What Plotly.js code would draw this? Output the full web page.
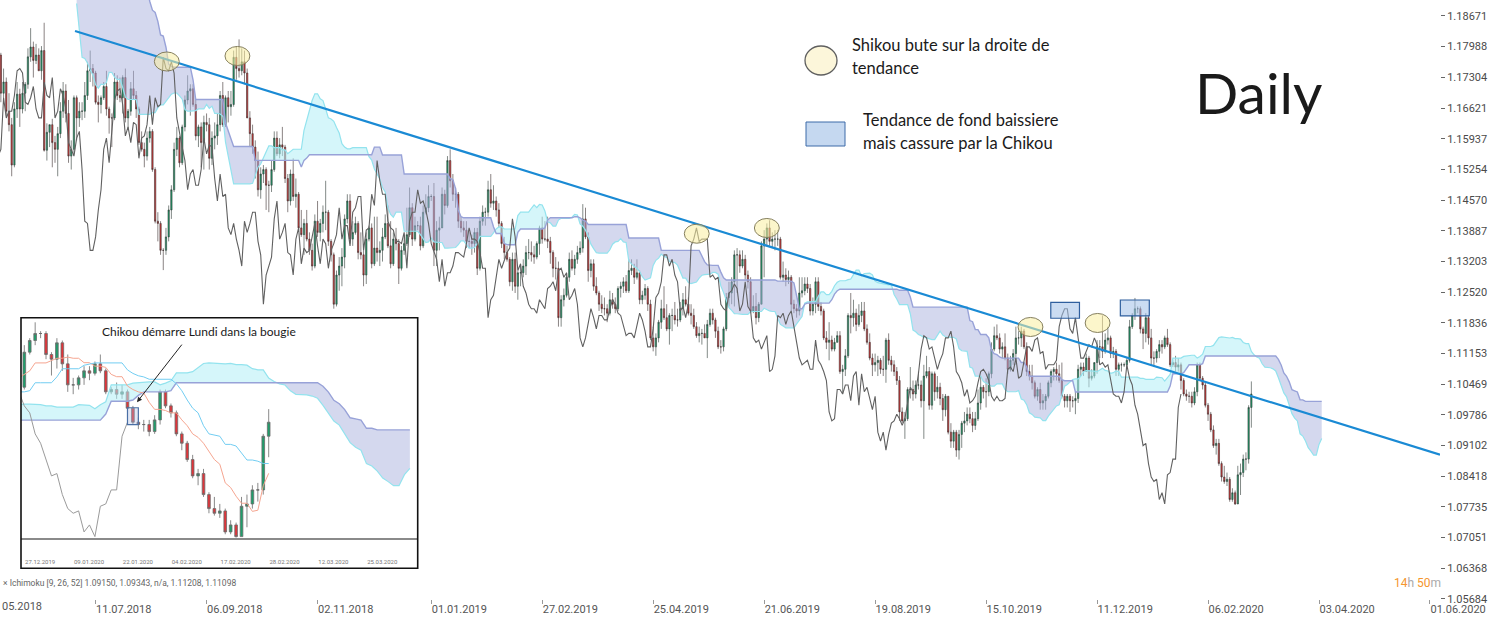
<!DOCTYPE html>
<html><head><meta charset="utf-8">
<script src="https://cdn.plot.ly/plotly-3.0.1.min.js"></script>
<style>html,body{margin:0;padding:0;background:#fff}#chart{width:1488px;height:627px}</style>
</head><body><div id="chart"></div>
<script>
// EUR/USD daily bars, one per weekday, from 15.03.2018 to 28.02.2020.
// Bar index 0 = 11.07.2018 ; first bar (15.03.2018) = -84.
const FIRST_BAR = -84;
const OPEN = [
1.2370,1.2305,1.2285,1.2335,1.2240,1.2350,1.2300,1.2355,1.2450,1.2405,1.2310,1.2320,
1.2325,1.2300,1.2270,1.2275,1.2240,1.2280,1.2320,1.2355,1.2365,1.2330,1.2330,1.2380,1.2375,1.2375,1.2345,1.2285,1.2210,1.2235,1.2165,1.2100,1.2130,
1.2080,1.1990,1.1950,1.1990,1.1960,1.1925,1.1865,1.1850,1.1915,1.1940,1.1925,1.1835,1.1810,1.1795,1.1770,1.1790,1.1780,1.1695,1.1720,1.1655,1.1625,1.1535,1.1660,
1.1693,1.1660,1.1695,1.1715,1.1776,1.1798,1.1768,1.1780,1.1745,1.1790,1.1568,1.1608,1.1625,1.1585,1.1570,1.1605,1.1655,1.1700,1.1650,1.1555,1.1570,
1.1685,1.1640,1.1655,1.1655,1.1690,1.1745,1.1750,1.1740,1.1675,1.1670,1.1685,1.1710,1.1660,1.1640,1.1640,1.1720,1.1690,1.1685,1.1730,1.1640,1.1655,1.1705,
1.1690,1.1660,1.1585,1.1570,1.1555,1.1595,1.1610,1.1525,1.1410,1.1405,1.1345,1.1345,1.1375,1.1435,1.1480,1.1570,1.1595,1.1540,1.1620,1.1680,1.1700,1.1705,1.1670,
1.1600,1.1620,1.1585,1.1630,1.1625,1.1550,1.1595,1.1600,1.1625,1.1690,1.1625,1.1685,1.1665,1.1670,1.1775,1.1750,1.1745,1.1765,1.1740,1.1640,
1.1605,1.1575,1.1545,1.1480,1.1515,1.1525,1.1490,1.1490,1.1525,1.1595,1.1560,1.1580,1.1575,1.1505,1.1455,1.1515,1.1465,1.1470,1.1395,1.1380,1.1405,1.1370,1.1345,
1.1310,1.1410,1.1385,1.1405,1.1430,1.1430,1.1365,1.1335,1.1225,1.1290,1.1310,1.1330,1.1415,1.1455,1.1370,1.1385,1.1405,1.1340,1.1335,1.1290,1.1370,1.1395,
1.1315,1.1350,1.1340,1.1345,1.1375,1.1405,1.1355,1.1315,1.1370,1.1360,1.1305,1.1345,1.1360,1.1380,1.1440,1.1370,1.1400,1.1400,1.1355,1.1430,1.1440,
1.1465,1.1465,1.1345,1.1390,1.1395,1.1470,1.1445,1.1545,1.1500,1.1470,1.1470,1.1410,1.1395,1.1390,1.1365,1.1365,1.1360,1.1385,1.1305,1.1410,1.1430,1.1430,1.1480,
1.1450,1.1455,1.1435,1.1405,1.1360,1.1340,1.1325,1.1275,1.1325,1.1265,1.1295,1.1295,1.1310,1.1340,1.1340,1.1335,1.1330,1.1360,1.1395,1.1370,
1.1370,1.1365,1.1340,1.1305,1.1305,1.1195,1.1235,1.1245,1.1285,1.1325,1.1305,1.1325,1.1340,1.1350,1.1415,1.1375,1.1300,1.1315,1.1265,1.1250,1.1225,
1.1215,1.1215,1.1205,1.1235,1.1225,1.1215,1.1260,1.1265,1.1275,1.1255,1.1300,1.1305,1.1285,1.1295,1.1235,1.1245,1.1260,1.1225,1.1150,1.1130,1.1150,1.1185,
1.1215,1.1195,1.1170,1.1200,1.1200,1.1190,1.1190,1.1215,1.1235,1.1225,1.1205,1.1200,1.1175,1.1155,1.1160,1.1160,1.1150,1.1180,1.1205,1.1190,1.1165,1.1130,1.1130,
1.1170,1.1240,1.1250,1.1275,1.1335,1.1335,1.1310,1.1325,1.1290,1.1275,1.1210,1.1220,1.1195,1.1225,1.1355,1.1370,1.1395,1.1365,1.1370,1.1370,
1.1370,1.1285,1.1290,1.1280,1.1285,1.1225,1.1215,1.1210,1.1250,1.1255,1.1270,1.1260,1.1210,1.1225,1.1275,1.1220,1.1210,1.1150,1.1140,1.1145,1.1125,1.1140,1.1155,
1.1075,1.1080,1.1110,1.1200,1.1195,1.1205,1.1180,1.1200,1.1210,1.1170,1.1140,1.1105,1.1090,1.1095,1.1100,1.1080,1.1080,1.1145,1.1100,1.1090,1.1075,1.1055,
1.0985,1.0965,1.0970,1.1035,1.1035,1.1025,1.1045,1.1045,1.1010,1.1065,1.1075,1.1000,1.1070,1.1030,1.1040,1.1015,1.0990,1.1020,1.0940,1.0920,1.0940,
1.0900,1.0935,1.0960,1.0965,1.0980,1.0970,1.0955,1.0970,1.1005,1.1040,1.1030,1.1030,1.1070,1.1125,1.1155,1.1150,1.1125,1.1130,1.1105,1.1080,1.1100,1.1115,1.1150,
1.1150,1.1165,1.1130,1.1075,1.1065,1.1050,1.1020,1.1035,1.1005,1.1010,1.1020,1.1050,1.1075,1.1080,1.1070,1.1055,1.1020,1.1010,1.1020,1.1010,1.1010,
1.1015,1.1080,1.1085,1.1075,1.1105,1.1060,1.1065,1.1095,1.1130,1.1130,1.1120,1.1145,1.1150,1.1115,1.1120,1.1080,1.1090,1.1090,1.1090,1.1100,1.1175,1.1200,
1.1215,1.1215,1.1170,1.1160,1.1195,1.1150,1.1105,1.1105,1.1120,1.1135,1.1130,1.1150,1.1135,1.1090,1.1095,1.1085,1.1090,1.1055,1.1025,1.1020,1.1020,1.1005,1.1030,
1.1090,1.1060,1.1045,1.1000,1.0980,1.0945,1.0910,1.0915,1.0870,1.0840,1.0830,1.0835,1.0790,1.0805,1.0780,1.0845,1.0850,1.0880,1.0880,1.0995];
const HIGH = [
1.2390,1.2335,1.2355,1.2345,1.2365,1.2390,1.2375,1.2475,1.2475,1.2410,1.2340,1.2340,
1.2345,1.2325,1.2320,1.2295,1.2295,1.2325,1.2365,1.2395,1.2370,1.2345,1.2395,1.2415,1.2410,1.2395,1.2350,1.2290,1.2250,1.2240,1.2200,1.2140,1.2135,
1.2085,1.2010,1.2000,1.1995,1.1975,1.1940,1.1890,1.1935,1.1955,1.1996,1.1940,1.1850,1.1830,1.1810,1.1790,1.1830,1.1785,1.1750,1.1730,1.1695,1.1640,1.1675,1.1720,
1.1705,1.1720,1.1720,1.1795,1.1840,1.1810,1.1805,1.1795,1.1800,1.1852,1.1628,1.1625,1.1638,1.1600,1.1620,1.1675,1.1720,1.1715,1.1680,1.1590,1.1690,
1.1690,1.1675,1.1675,1.1720,1.1765,1.1790,1.1760,1.1745,1.1690,1.1690,1.1720,1.1745,1.1665,1.1650,1.1740,1.1735,1.1730,1.1735,1.1750,1.1660,1.1720,1.1745,
1.1700,1.1665,1.1610,1.1585,1.1610,1.1620,1.1615,1.1530,1.1430,1.1410,1.1350,1.1395,1.1445,1.1490,1.1585,1.1620,1.1600,1.1625,1.1690,1.1735,1.1715,1.1715,1.1680,
1.1625,1.1630,1.1645,1.1650,1.1640,1.1610,1.1630,1.1650,1.1700,1.1720,1.1690,1.1700,1.1700,1.1790,1.1800,1.1815,1.1795,1.1790,1.1750,1.1655,
1.1625,1.1590,1.1565,1.1530,1.1535,1.1530,1.1500,1.1545,1.1610,1.1610,1.1595,1.1620,1.1580,1.1515,1.1525,1.1550,1.1505,1.1475,1.1435,1.1415,1.1435,1.1385,1.1360,
1.1425,1.1455,1.1415,1.1445,1.1500,1.1435,1.1370,1.1340,1.1300,1.1330,1.1350,1.1425,1.1470,1.1470,1.1410,1.1420,1.1410,1.1385,1.1345,1.1385,1.1400,1.1405,
1.1420,1.1420,1.1365,1.1395,1.1425,1.1445,1.1410,1.1385,1.1395,1.1370,1.1355,1.1380,1.1440,1.1485,1.1450,1.1420,1.1410,1.1420,1.1445,1.1470,1.1490,
1.1470,1.1495,1.1410,1.1420,1.1485,1.1480,1.1555,1.1570,1.1515,1.1485,1.1475,1.1420,1.1410,1.1410,1.1385,1.1380,1.1395,1.1395,1.1420,1.1445,1.1440,1.1500,1.1515,
1.1490,1.1465,1.1450,1.1410,1.1375,1.1355,1.1330,1.1340,1.1340,1.1300,1.1310,1.1325,1.1355,1.1370,1.1365,1.1355,1.1365,1.1400,1.1420,1.1410,
1.1420,1.1375,1.1345,1.1330,1.1320,1.1245,1.1260,1.1295,1.1340,1.1345,1.1335,1.1355,1.1365,1.1448,1.1440,1.1385,1.1325,1.1325,1.1285,1.1255,1.1245,
1.1240,1.1225,1.1255,1.1250,1.1240,1.1265,1.1275,1.1285,1.1290,1.1325,1.1325,1.1315,1.1325,1.1300,1.1255,1.1270,1.1265,1.1235,1.1175,1.1160,1.1190,1.1235,
1.1265,1.1225,1.1205,1.1215,1.1230,1.1215,1.1230,1.1250,1.1265,1.1240,1.1225,1.1215,1.1185,1.1175,1.1170,1.1180,1.1190,1.1215,1.1215,1.1195,1.1175,1.1145,1.1175,
1.1250,1.1275,1.1285,1.1345,1.1350,1.1345,1.1345,1.1335,1.1300,1.1285,1.1245,1.1250,1.1230,1.1365,1.1390,1.1405,1.1412,1.1385,1.1390,1.1390,
1.1375,1.1320,1.1305,1.1300,1.1290,1.1235,1.1225,1.1285,1.1285,1.1285,1.1285,1.1270,1.1240,1.1285,1.1285,1.1230,1.1215,1.1165,1.1185,1.1155,1.1150,1.1165,1.1165,
1.1090,1.1125,1.1205,1.1250,1.1235,1.1215,1.1225,1.1230,1.1230,1.1180,1.1160,1.1115,1.1115,1.1110,1.1105,1.1110,1.1150,1.1160,1.1110,1.1100,1.1085,1.1065,
1.0995,1.0985,1.1040,1.1085,1.1055,1.1055,1.1075,1.1055,1.1090,1.1110,1.1085,1.1075,1.1075,1.1065,1.1050,1.1025,1.1025,1.1020,1.0960,1.0945,1.0945,
1.0945,1.0965,1.0985,1.0995,1.0995,1.0985,1.0985,1.1035,1.1065,1.1045,1.1060,1.1075,1.1140,1.1175,1.1180,1.1160,1.1140,1.1160,1.1115,1.1110,1.1125,1.1175,1.1165,
1.1175,1.1170,1.1140,1.1090,1.1090,1.1055,1.1040,1.1050,1.1025,1.1025,1.1055,1.1080,1.1085,1.1095,1.1090,1.1095,1.1025,1.1025,1.1025,1.1020,1.1030,
1.1090,1.1095,1.1095,1.1115,1.1110,1.1080,1.1095,1.1145,1.1145,1.1200,1.1160,1.1175,1.1155,1.1130,1.1125,1.1095,1.1095,1.1095,1.1105,1.1190,1.1205,1.1239,
1.1220,1.1220,1.1175,1.1205,1.1200,1.1170,1.1120,1.1125,1.1145,1.1145,1.1155,1.1170,1.1140,1.1100,1.1110,1.1105,1.1095,1.1060,1.1035,1.1030,1.1030,1.1040,1.1095,
1.1095,1.1065,1.1050,1.1005,1.0985,1.0955,1.0925,1.0925,1.0875,1.0865,1.0850,1.0840,1.0815,1.0810,1.0865,1.0870,1.0890,1.0895,1.1000,1.1053];
const LOW = [
1.2290,1.2260,1.2255,1.2240,1.2230,1.2285,1.2285,1.2345,1.2395,1.2300,1.2290,1.2310,
1.2280,1.2255,1.2255,1.2215,1.2215,1.2260,1.2310,1.2340,1.2310,1.2305,1.2320,1.2350,1.2355,1.2335,1.2275,1.2185,1.2185,1.2160,1.2095,1.2055,1.2060,
1.1985,1.1940,1.1940,1.1910,1.1905,1.1840,1.1825,1.1840,1.1905,1.1915,1.1820,1.1765,1.1790,1.1750,1.1720,1.1770,1.1675,1.1680,1.1645,1.1610,1.1510,1.1530,1.1640,
1.1620,1.1650,1.1655,1.1705,1.1765,1.1730,1.1760,1.1745,1.1725,1.1565,1.1545,1.1575,1.1530,1.1540,1.1510,1.1595,1.1640,1.1630,1.1540,1.1525,1.1560,
1.1590,1.1620,1.1635,1.1640,1.1680,1.1720,1.1710,1.1670,1.1630,1.1650,1.1680,1.1645,1.1605,1.1575,1.1635,1.1680,1.1675,1.1650,1.1630,1.1615,1.1645,1.1680,
1.1640,1.1580,1.1565,1.1530,1.1545,1.1585,1.1520,1.1405,1.1365,1.1335,1.1301,1.1335,1.1365,1.1415,1.1475,1.1555,1.1530,1.1535,1.1610,1.1670,1.1645,1.1665,1.1590,
1.1575,1.1530,1.1525,1.1610,1.1525,1.1535,1.1570,1.1580,1.1610,1.1620,1.1620,1.1630,1.1645,1.1665,1.1725,1.1730,1.1735,1.1715,1.1640,1.1575,
1.1560,1.1505,1.1465,1.1460,1.1495,1.1435,1.1430,1.1475,1.1520,1.1555,1.1550,1.1555,1.1495,1.1430,1.1445,1.1455,1.1440,1.1390,1.1375,1.1335,1.1365,1.1335,1.1300,
1.1305,1.1375,1.1365,1.1385,1.1390,1.1355,1.1320,1.1215,1.1220,1.1255,1.1265,1.1305,1.1405,1.1360,1.1355,1.1380,1.1325,1.1325,1.1265,1.1270,1.1365,1.1305,
1.1310,1.1320,1.1310,1.1320,1.1370,1.1350,1.1305,1.1310,1.1345,1.1270,1.1300,1.1335,1.1355,1.1375,1.1355,1.1365,1.1390,1.1345,1.1350,1.1425,1.1430,
1.1455,1.1310,1.1310,1.1345,1.1395,1.1425,1.1440,1.1485,1.1455,1.1440,1.1395,1.1385,1.1375,1.1350,1.1350,1.1335,1.1340,1.1290,1.1300,1.1400,1.1400,1.1420,1.1440,
1.1435,1.1420,1.1395,1.1350,1.1325,1.1320,1.1265,1.1255,1.1250,1.1235,1.1265,1.1285,1.1290,1.1325,1.1320,1.1315,1.1325,1.1335,1.1360,1.1365,
1.1350,1.1315,1.1285,1.1280,1.1175,1.1175,1.1220,1.1240,1.1275,1.1300,1.1290,1.1315,1.1335,1.1340,1.1370,1.1275,1.1285,1.1255,1.1245,1.1210,1.1205,
1.1200,1.1185,1.1200,1.1215,1.1205,1.1210,1.1240,1.1250,1.1250,1.1250,1.1290,1.1270,1.1280,1.1225,1.1225,1.1235,1.1210,1.1145,1.1120,1.1110,1.1140,1.1170,
1.1190,1.1165,1.1135,1.1165,1.1180,1.1175,1.1185,1.1200,1.1220,1.1200,1.1180,1.1170,1.1150,1.1140,1.1135,1.1150,1.1105,1.1175,1.1180,1.1150,1.1125,1.1115,1.1120,
1.1165,1.1220,1.1225,1.1220,1.1250,1.1295,1.1305,1.1280,1.1260,1.1205,1.1205,1.1180,1.1185,1.1225,1.1285,1.1355,1.1355,1.1350,1.1345,1.1355,
1.1280,1.1275,1.1265,1.1270,1.1210,1.1205,1.1195,1.1200,1.1240,1.1245,1.1250,1.1200,1.1200,1.1205,1.1210,1.1200,1.1145,1.1125,1.1100,1.1120,1.1120,1.1140,1.1070,
1.1025,1.1065,1.1105,1.1160,1.1175,1.1165,1.1175,1.1185,1.1165,1.1135,1.1100,1.1065,1.1075,1.1065,1.1070,1.1065,1.1050,1.1090,1.1075,1.1065,1.1045,1.0965,
1.0960,1.0925,1.0965,1.1015,1.1010,1.1015,1.1035,1.0995,1.0925,1.1060,1.0990,1.0990,1.1010,1.1015,1.1000,1.0965,1.0975,1.0935,1.0905,1.0905,1.0885,
1.0879,1.0905,1.0940,1.0955,1.0960,1.0940,1.0945,1.0965,1.0990,1.1015,1.0995,1.1020,1.1060,1.1120,1.1145,1.1115,1.1105,1.1100,1.1070,1.1075,1.1090,1.1090,1.1135,
1.1130,1.1125,1.1065,1.1055,1.1035,1.1015,1.1010,1.0990,1.0990,1.0990,1.1015,1.1040,1.1055,1.1055,1.1050,1.1015,1.0995,1.0995,1.0985,1.0995,1.0980,
1.1005,1.1065,1.1065,1.1075,1.1040,1.1055,1.1060,1.1070,1.1105,1.1105,1.1115,1.1135,1.1105,1.1105,1.1065,1.1065,1.1075,1.1085,1.1085,1.1095,1.1170,1.1190,
1.1205,1.1160,1.1125,1.1140,1.1135,1.1090,1.1085,1.1095,1.1105,1.1115,1.1125,1.1130,1.1085,1.1085,1.1075,1.1075,1.1035,1.1020,1.1010,1.1005,1.0995,1.1000,1.1020,
1.1055,1.1035,1.0995,1.0965,1.0940,1.0905,1.0890,1.0865,1.0830,1.0825,1.0820,1.0785,1.0785,1.0778,1.0780,1.0800,1.0840,1.0855,1.0870,1.0950];
const CLOSE = [
1.2305,1.2285,1.2335,1.2240,1.2350,1.2300,1.2355,1.2450,1.2405,1.2310,1.2320,1.2325,
1.2300,1.2270,1.2275,1.2240,1.2280,1.2320,1.2355,1.2365,1.2330,1.2330,1.2380,1.2375,1.2375,1.2345,1.2285,1.2210,1.2235,1.2165,1.2100,1.2130,1.2080,
1.1990,1.1950,1.1990,1.1960,1.1925,1.1865,1.1850,1.1915,1.1940,1.1925,1.1835,1.1810,1.1795,1.1770,1.1790,1.1780,1.1695,1.1720,1.1655,1.1625,1.1535,1.1660,1.1693,
1.1660,1.1695,1.1715,1.1776,1.1798,1.1768,1.1780,1.1745,1.1790,1.1568,1.1608,1.1625,1.1585,1.1570,1.1605,1.1655,1.1700,1.1650,1.1555,1.1570,1.1685,
1.1640,1.1655,1.1655,1.1690,1.1745,1.1750,1.1740,1.1675,1.1670,1.1685,1.1710,1.1660,1.1640,1.1640,1.1720,1.1690,1.1685,1.1730,1.1640,1.1655,1.1705,1.1690,
1.1660,1.1585,1.1570,1.1555,1.1595,1.1610,1.1525,1.1410,1.1405,1.1345,1.1345,1.1375,1.1435,1.1480,1.1570,1.1595,1.1540,1.1620,1.1680,1.1700,1.1705,1.1670,1.1600,
1.1620,1.1585,1.1630,1.1625,1.1550,1.1595,1.1600,1.1625,1.1690,1.1625,1.1685,1.1665,1.1670,1.1775,1.1750,1.1745,1.1765,1.1740,1.1640,1.1605,
1.1575,1.1545,1.1480,1.1515,1.1525,1.1490,1.1490,1.1525,1.1595,1.1560,1.1580,1.1575,1.1505,1.1455,1.1515,1.1465,1.1470,1.1395,1.1380,1.1405,1.1370,1.1345,1.1310,
1.1410,1.1385,1.1405,1.1430,1.1430,1.1365,1.1335,1.1225,1.1290,1.1310,1.1330,1.1415,1.1455,1.1370,1.1385,1.1405,1.1340,1.1335,1.1290,1.1370,1.1395,1.1315,
1.1350,1.1340,1.1345,1.1375,1.1405,1.1355,1.1315,1.1370,1.1360,1.1305,1.1345,1.1360,1.1380,1.1440,1.1370,1.1400,1.1400,1.1355,1.1430,1.1440,1.1465,
1.1465,1.1345,1.1390,1.1395,1.1470,1.1445,1.1545,1.1500,1.1470,1.1470,1.1410,1.1395,1.1390,1.1365,1.1365,1.1360,1.1385,1.1305,1.1410,1.1430,1.1430,1.1480,1.1450,
1.1455,1.1435,1.1405,1.1360,1.1340,1.1325,1.1275,1.1325,1.1265,1.1295,1.1295,1.1310,1.1340,1.1340,1.1335,1.1330,1.1360,1.1395,1.1370,1.1370,
1.1365,1.1340,1.1305,1.1305,1.1195,1.1235,1.1245,1.1285,1.1325,1.1305,1.1325,1.1340,1.1350,1.1415,1.1375,1.1300,1.1315,1.1265,1.1250,1.1225,1.1215,
1.1215,1.1205,1.1235,1.1225,1.1215,1.1260,1.1265,1.1275,1.1255,1.1300,1.1305,1.1285,1.1295,1.1235,1.1245,1.1260,1.1225,1.1150,1.1130,1.1150,1.1185,1.1215,
1.1195,1.1170,1.1200,1.1200,1.1190,1.1190,1.1215,1.1235,1.1225,1.1205,1.1200,1.1175,1.1155,1.1160,1.1160,1.1150,1.1180,1.1205,1.1190,1.1165,1.1130,1.1130,1.1170,
1.1240,1.1250,1.1275,1.1335,1.1335,1.1310,1.1325,1.1290,1.1275,1.1210,1.1220,1.1195,1.1225,1.1355,1.1370,1.1395,1.1365,1.1370,1.1370,1.1370,
1.1285,1.1290,1.1280,1.1285,1.1225,1.1215,1.1210,1.1250,1.1255,1.1270,1.1260,1.1210,1.1225,1.1275,1.1220,1.1210,1.1150,1.1140,1.1145,1.1125,1.1140,1.1155,1.1075,
1.1080,1.1110,1.1200,1.1195,1.1205,1.1180,1.1200,1.1210,1.1170,1.1140,1.1105,1.1090,1.1095,1.1100,1.1080,1.1080,1.1145,1.1100,1.1090,1.1075,1.1055,1.0985,
1.0965,1.0970,1.1035,1.1035,1.1025,1.1045,1.1045,1.1010,1.1065,1.1075,1.1000,1.1070,1.1030,1.1040,1.1015,1.0990,1.1020,1.0940,1.0920,1.0940,1.0900,
1.0935,1.0960,1.0965,1.0980,1.0970,1.0955,1.0970,1.1005,1.1040,1.1030,1.1030,1.1070,1.1125,1.1155,1.1150,1.1125,1.1130,1.1105,1.1080,1.1100,1.1115,1.1150,1.1150,
1.1165,1.1130,1.1075,1.1065,1.1050,1.1020,1.1035,1.1005,1.1010,1.1020,1.1050,1.1075,1.1080,1.1070,1.1055,1.1020,1.1010,1.1020,1.1010,1.1010,1.1015,
1.1080,1.1085,1.1075,1.1105,1.1060,1.1065,1.1095,1.1130,1.1130,1.1120,1.1145,1.1150,1.1115,1.1120,1.1080,1.1090,1.1090,1.1090,1.1100,1.1175,1.1200,1.1215,
1.1215,1.1170,1.1160,1.1195,1.1150,1.1105,1.1105,1.1120,1.1135,1.1130,1.1150,1.1135,1.1090,1.1095,1.1085,1.1090,1.1055,1.1025,1.1020,1.1020,1.1005,1.1030,1.1090,
1.1060,1.1045,1.1000,1.0980,1.0945,1.0910,1.0915,1.0870,1.0840,1.0830,1.0835,1.0790,1.0805,1.0780,1.0845,1.0850,1.0880,1.0880,1.0995,1.1025];

const DATE_TICKS  = [0, 41, 82, 124, 165, 206, 247, 288, 329, 370, 411, 452, 493];
const DATE_LABELS = ['11.07.2018','06.09.2018','02.11.2018','01.01.2019','27.02.2019','25.04.2019','21.06.2019','19.08.2019','15.10.2019','11.12.2019','06.02.2020','03.04.2020','01.06.2020'];
const PRICE_TICKS = [1.18671,1.17988,1.17304,1.16621,1.15937,1.15254,1.14570,1.13887,1.13203,1.12520,1.11836,1.11153,1.10469,1.09786,1.09102,1.08418,1.07735,1.07051,1.06368,1.05684];
const INSET_TICKS  = [382, 391, 400, 409, 418, 427, 436, 445];
const INSET_LABELS = ['27.12.2019','09.01.2020','22.01.2020','04.02.2020','17.02.2020','28.02.2020','12.03.2020','25.03.2020'];
// hand-drawn trend line (bar index, price)
const TREND_X = [-7.6, 496.7];
const TREND_Y = [1.18336, 1.08898];
// yellow ellipses (bar index, price) where Chikou touches the trend line
const ELLIPSE_X = [26.3, 52.4, 222.1, 248.0, 345.4, 370.2];
const ELLIPSE_Y = [1.17657, 1.17780, 1.13821, 1.13948, 1.11743, 1.11832];
// blue boxes: [x0, x1, y0, y1]
const BOXES = [[352.9, 363.5, 1.11937, 1.12293], [378.6, 389.3, 1.11988, 1.12344]];
const MARKED_BAR = 402; // 24.01.2020 candle highlighted in the inset

// ---------- Ichimoku (9, 26, 52) ----------
const N = CLOSE.length;
const BARS = CLOSE.map((_, k) => FIRST_BAR + k);
function midRange(k, n) {
  if (k - n + 1 < 0) return null;
  let hi = -Infinity, lo = Infinity;
  for (let j = k - n + 1; j <= k; j++) { if (HIGH[j] > hi) hi = HIGH[j]; if (LOW[j] < lo) lo = LOW[j]; }
  return (hi + lo) / 2;
}
const TENKAN = BARS.map((_, k) => midRange(k, 9));
const KIJUN = BARS.map((_, k) => midRange(k, 26));
const spanX = [], spanA = [], spanB = [];
for (let k = 0; k < N; k++) {
  const b = midRange(k, 52);
  if (b === null) continue;
  spanX.push(BARS[k] + 26); spanA.push((TENKAN[k] + KIJUN[k]) / 2); spanB.push(b);
}
const CHIKOU_X = BARS.map(b => b - 26);

function cloudPolys() {
  const polys = []; let cur = null;
  for (let k = 0; k < spanX.length; k++) {
    const up = spanA[k] >= spanB[k];
    if (!cur || cur.up !== up) {
      if (cur) {
        const d0 = spanA[k-1] - spanB[k-1], d1 = spanA[k] - spanB[k];
        const t = d0 / (d0 - d1);
        const xc = spanX[k-1] + t * (spanX[k] - spanX[k-1]);
        const yc = spanA[k-1] + t * (spanA[k] - spanA[k-1]);
        cur.x.push(xc); cur.a.push(yc); cur.b.push(yc);
        cur = {up, x: [xc], a: [yc], b: [yc]};
      } else cur = {up, x: [], a: [], b: []};
      polys.push(cur);
    }
    cur.x.push(spanX[k]); cur.a.push(spanA[k]); cur.b.push(spanB[k]);
  }
  return polys;
}
const POLYS = cloudPolys();

const BULL_FILL = 'rgba(178,238,245,0.55)', BEAR_FILL = 'rgba(170,178,222,0.5)';
const A_COLOR = '#93e3ee', B_COLOR = '#98a2d8';

function cloudTraces(xa, ya) {
  const out = [];
  POLYS.forEach(p => {
    out.push({type:'scatter', mode:'lines', xaxis:xa, yaxis:ya, hoverinfo:'skip',
      x: p.x.concat(p.x.slice().reverse()), y: p.a.concat(p.b.slice().reverse()),
      fill:'toself', fillcolor: p.up ? BULL_FILL : BEAR_FILL, line:{width:0}});
  });
  out.push({type:'scatter', mode:'lines', xaxis:xa, yaxis:ya, hoverinfo:'skip', x:spanX, y:spanA, line:{color:A_COLOR, width:1.2}});
  out.push({type:'scatter', mode:'lines', xaxis:xa, yaxis:ya, hoverinfo:'skip', x:spanX, y:spanB, line:{color:B_COLOR, width:1.4}});
  return out;
}

const traces = [];
// main chart
traces.push(...cloudTraces('x', 'y'));
traces.push({type:'scatter', mode:'lines', x:CHIKOU_X, y:CLOSE, line:{color:'#606060', width:1.1}, hoverinfo:'skip'});
traces.push({type:'candlestick', x:BARS, open:OPEN, high:HIGH, low:LOW, close:CLOSE, hoverinfo:'skip',
  increasing:{line:{color:'#2f3b35', width:0.6}, fillcolor:'#1f9e6b'},
  decreasing:{line:{color:'#3b2f2f', width:0.6}, fillcolor:'#d43a3a'}, whiskerwidth:0});
traces.push({type:'scatter', mode:'lines', x:TREND_X, y:TREND_Y, line:{color:'#1a8ad4', width:2.2}, hoverinfo:'skip'});
// inset
traces.push(...cloudTraces('x2', 'y2'));
traces.push({type:'scatter', mode:'lines', xaxis:'x2', yaxis:'y2', x:CHIKOU_X, y:CLOSE, line:{color:'#9a9a9a', width:1}, hoverinfo:'skip'});
traces.push({type:'scatter', mode:'lines', xaxis:'x2', yaxis:'y2', x:BARS, y:TENKAN, line:{color:'#f5a590', width:1}, hoverinfo:'skip'});
traces.push({type:'scatter', mode:'lines', xaxis:'x2', yaxis:'y2', x:BARS, y:KIJUN, line:{color:'#72cdf2', width:1}, hoverinfo:'skip'});
traces.push({type:'candlestick', xaxis:'x2', yaxis:'y2', x:BARS, open:OPEN, high:HIGH, low:LOW, close:CLOSE, hoverinfo:'skip',
  increasing:{line:{color:'#6b6b6b', width:0.8}, fillcolor:'#1f9e6b'},
  decreasing:{line:{color:'#6b6b6b', width:0.8}, fillcolor:'#e0353a'}, whiskerwidth:0});

// ---------- layout helpers (pixel -> paper within 1440x599 plot area) ----------
const PX = x => x / 1440, PY = y => 1 - y / 599;
const shapes = [];
ELLIPSE_X.forEach((cx, i) => {
  shapes.push({type:'circle', xref:'x', yref:'y', x0:cx-4.6, x1:cx+4.6, y0:ELLIPSE_Y[i]-0.00212, y1:ELLIPSE_Y[i]+0.00212,
    fillcolor:'rgba(250,238,160,0.55)', line:{color:'#857f5e', width:1}, layer:'above'});
});
BOXES.forEach(b => {
  shapes.push({type:'rect', xref:'x', yref:'y', x0:b[0], x1:b[1], y0:b[2], y1:b[3],
    fillcolor:'rgba(160,192,232,0.55)', line:{color:'#2f5f9e', width:1.2}, layer:'above'});
});
const mk = MARKED_BAR - FIRST_BAR;
shapes.push({type:'rect', xref:'x2', yref:'y2', x0:MARKED_BAR-1, x1:MARKED_BAR+1, y0:LOW[mk], y1:OPEN[mk]+0.0001,
  fillcolor:'rgba(170,185,225,0.35)', line:{color:'#4a6fa5', width:1.2}, layer:'above'});
// legend symbols
shapes.push({type:'circle', xref:'paper', yref:'paper', x0:PX(805), x1:PX(837), y0:PY(75), y1:PY(46),
  fillcolor:'#fcf6da', line:{color:'#5f5f5f', width:1.3}});
shapes.push({type:'rect', xref:'paper', yref:'paper', x0:PX(806), x1:PX(845), y0:PY(146), y1:PY(122),
  fillcolor:'#c5d8f0', line:{color:'#3d6aa8', width:1}});
// inset frame
shapes.push({type:'rect', xref:'paper', yref:'paper', x0:PX(21), x1:PX(417.7), y0:PY(568.3), y1:PY(317.7),
  line:{color:'#111', width:1.6}, layer:'above'});

const TXT = {family:'Lato, "Open Sans", sans-serif', color:'#1a1a1a'};
const annotations = [
  {text:'Shikou bute sur la droite de', x:PX(850), y:PY(45)},
  {text:'tendance', x:PX(850), y:PY(68)},
  {text:'Tendance de fond baissiere', x:PX(861), y:PY(120)},
  {text:'mais cassure par la Chikou', x:PX(861), y:PY(143)}
].map(a => Object.assign(a, {xref:'paper', yref:'paper', xanchor:'left', yanchor:'middle', showarrow:false, font:Object.assign({size:16.5}, TXT)}));
annotations.push({text:'Daily', x:PX(1258), y:PY(92), xref:'paper', yref:'paper', xanchor:'center', yanchor:'middle', showarrow:false, font:Object.assign({size:57}, TXT)});
annotations.push({text:'Chikou démarre Lundi dans la bougie', x:PX(199), y:PY(331.5), xref:'paper', yref:'paper', xanchor:'center', yanchor:'middle', showarrow:false, font:Object.assign({size:12}, TXT)});
annotations.push({text:'', x:402.75, y:1.1068, xref:'x2', yref:'y2', showarrow:true, ax:46, ay:-59, arrowhead:2, arrowsize:1, arrowwidth:1, arrowcolor:'#222'});
annotations.push({text:'05.2018', x:PX(0), y:PY(606), xref:'paper', yref:'paper', xanchor:'left', yanchor:'middle', showarrow:false, font:{family:'Roboto', size:11, color:'#555'}});
annotations.push({text:'× Ichimoku [9, 26, 52] 1.09150, 1.09343, n/a, 1.11208, 1.11098', x:PX(1), y:PY(583), xref:'paper', yref:'paper', xanchor:'left', yanchor:'middle', showarrow:false, font:{family:'Roboto', size:8.5, color:'#666'}});
annotations.push({text:'<span style="color:#f5962e">14</span><span style="color:#aaaaaa">h</span> <span style="color:#f5962e">50</span><span style="color:#aaaaaa">m</span>', x:PX(1392), y:PY(583), xref:'paper', yref:'paper', xanchor:'left', yanchor:'middle', showarrow:false, font:{family:'Roboto', size:12}});

const layout = {
  width:1488, height:627, margin:{l:0, r:48, t:0, b:28},
  paper_bgcolor:'#ffffff', plot_bgcolor:'#ffffff', showlegend:false,
  xaxis:{domain:[0,1], range:[-35.32, 496.7], tickvals:DATE_TICKS, ticktext:DATE_LABELS, tickangle:0,
    ticks:'outside', ticklen:4, tickcolor:'#999', ticklabelposition:'outside right',
    tickfont:{family:'Roboto', size:11, color:'#555'}, showgrid:false, zeroline:false, showline:false,
    rangeslider:{visible:false}, fixedrange:true},
  yaxis:{side:'right', range:[1.05683, 1.19027], tickvals:PRICE_TICKS, ticktext:PRICE_TICKS.map(v => v.toFixed(5)),
    ticks:'outside', ticklen:4, tickcolor:'#666', tickfont:{family:'Roboto', size:11, color:'#4a4a4a'},
    showgrid:false, zeroline:false, showline:false, fixedrange:true},
  xaxis2:{domain:[PX(21), PX(417.7)], anchor:'y2', range:[381.39, 454.44], tickvals:INSET_TICKS, ticktext:INSET_LABELS,
    ticks:'', ticklabelposition:'outside right', ticklabelstandoff:17, tickangle:0,
    tickfont:{family:'Roboto', size:6, color:'#777'}, showline:true, linecolor:'#8a8a8a', linewidth:1.5,
    showgrid:false, zeroline:false, rangeslider:{visible:false}, fixedrange:true},
  yaxis2:{domain:[PY(538), PY(318)], anchor:'x2', range:[1.0777, 1.12482], visible:false, fixedrange:true},
  shapes, annotations
};
Plotly.newPlot('chart', traces, layout, {staticPlot:true, displayModeBar:false});
</script></body></html>
